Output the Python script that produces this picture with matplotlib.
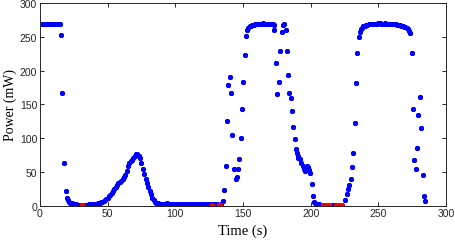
import matplotlib.pyplot as plt

# blue samples: time (s) and power (mW)
time_blue = [
    0, 1, 2, 3, 4, 5, 6, 7, 8, 9, 10, 11, 12, 13, 14, 15, 15.5, 16.5, 17.7, 19, 19.7,
    20.5, 21.5, 22.5, 23.5, 24.5, 25.5, 26.5, 27.5, 28.5, 29.5,
    32, 33, 34, 35, 36, 37, 38, 39, 40, 41, 42, 43, 44, 45, 46, 47, 48, 49,
    50, 51, 52, 53, 54, 55, 56, 57, 58, 59, 60, 61, 62, 63, 64, 65, 66, 67, 68, 69,
    70, 71, 72, 73, 74, 75, 76, 77, 78, 79, 80, 81, 82, 83, 84, 85, 86, 87,
    88, 89, 90, 91, 92, 93, 94, 95, 96, 97, 98, 99, 100, 101, 102, 103, 104, 105,
    106, 107, 108, 109, 110, 111, 112, 113, 114, 115, 116, 117, 118, 119, 120,
    121, 122, 123, 124, 125, 126, 128, 129, 130, 131, 134,
    135.5, 136, 137.5, 138.2, 139.2, 140.4, 141.2, 142, 143.4, 144.9, 145.4,
    146.6, 147.3, 148.3, 149.3, 150.3, 151.3, 152.3, 153.2,
    154, 155, 156, 157, 158, 159, 160, 161, 162, 163, 164, 165, 166, 167, 168,
    169, 170, 171, 172, 173, 173.2, 174.4, 175.4, 176.4, 177.4, 178.6, 179.8,
    180.6, 181.8, 182.3, 183.5, 184.3, 185.5, 186.5, 187.2, 188.5, 189.2,
    190, 190.5, 191, 192, 193, 194, 195, 195.9, 196.5, 197.3, 198, 199, 199.6,
    201.3, 201.6, 202.3, 203, 204, 205, 206, 207, 208,
    213.5, 214.5, 215.5, 216.5, 217.5,
    225.4, 226.7, 227.4, 228.4, 229.6, 230.4, 231.6, 232.5, 233.6, 234.6, 235.8, 236.5,
    237, 238, 239, 240, 241, 242, 243, 244, 245, 246, 247, 248, 249, 250,
    251, 252, 253, 254, 255, 256, 257, 258, 259, 260, 261, 262, 263, 264, 265,
    266, 267, 268, 269, 270, 271, 272, 273, 273.5,
    274.7, 276, 276.6, 277.6, 278.4, 279.4, 280.8, 281.6, 282.8, 283.8, 284.8,
]
power_blue = [
    270, 270, 269.5, 270, 270, 269.5, 270, 270, 269.5, 270, 270, 269.5, 270, 270, 269.5, 270, 253, 167, 63, 22, 11,
    8, 6, 4.5, 3.5, 3, 2.5, 2, 1.5, 1, 1,
    0.8, 1, 1.2, 1.5, 1.8, 2, 2.2, 2.5, 2.8, 3, 3.2, 3.5, 4, 5, 6, 7, 8.5, 10,
    12, 14, 16.5, 19, 22, 25, 28, 30, 33, 35, 37, 39, 42, 46, 52, 59, 64, 66, 68, 71,
    74, 77, 76, 74, 70, 63, 55, 47, 40, 33, 28, 22, 17, 12, 8, 5, 4, 3.5,
    3, 3.2, 3, 2.8, 3.2, 3, 3.3, 3, 2.8, 3, 3.2, 3, 2.8, 3, 3.1, 2.9, 3, 3.2,
    3, 2.8, 3, 3.1, 2.9, 3, 2.8, 3, 2.7, 2.9, 2.8, 2.6, 2.8, 2.7, 2.5,
    2.7, 2.5, 2.6, 2.4, 2.5, 2.3, 2.4, 2.2, 2.4, 2.3, 3,
    6.5, 24, 59, 126, 179, 191, 167, 105, 55, 40, 43,
    54, 69, 100, 143, 184, 224, 252, 261,
    264, 266, 267, 268, 268.5, 269, 269, 269.5, 270, 270, 270, 270.5, 270, 270, 269.5,
    269.5, 269, 269, 269, 268.5, 261, 212, 166, 183, 229, 258, 268,
    270, 260, 230, 193, 167, 159, 141, 116, 99, 84,
    78, 73, 70, 69, 63, 59, 55, 52, 56, 59, 57, 53, 48,
    32, 15, 6, 4, 3, 2.5, 2, 1.5, 1,
    0.3, 0.2, 0.2, 0.3, 0.5,
    8, 17, 25, 31, 40, 57, 78, 123, 182, 227, 250, 258,
    262, 264, 266, 267, 268, 268.5, 269, 269, 269.5, 269.5, 270, 270, 270, 270.5,
    270.5, 270, 270, 270, 270.5, 270, 270, 269.5, 269.5, 269.5, 269, 269, 269, 268.5, 268,
    267.5, 267, 266, 265.5, 265, 263, 262, 259, 256,
    227, 144, 67, 54, 85, 135, 161, 115, 45, 15, 6.5,
]

# red samples (near-zero readings)
time_red = [30.8, 127, 132, 133, 209.5, 210.5, 211.5, 212.5, 213.5,
            218.5, 219.5, 220.5, 221.5, 222.5, 223.5]
power_red = [0.5, 1, 1, 1, 0.5, 0.5, 0.4, 0.4, 0.4,
             0.5, 0.5, 0.6, 0.6, 0.8, 0.8]

x_ticks = [0, 50, 100, 150, 200, 250, 300]
y_ticks = [0, 50, 100, 150, 200, 250, 300]


def main():
    fig, ax = plt.subplots(figsize=(4.56, 2.51), dpi=100)
    fig.subplots_adjust(left=0.0877, right=0.978, bottom=0.1765, top=0.983)

    ax.plot(time_blue, power_blue, linestyle="none", marker=(8, 2, 0),
            markersize=3.6, markeredgewidth=0.9, color="#0000ff")
    ax.plot(time_red, power_red, linestyle="none", marker=(8, 2, 0),
            markersize=3.6, markeredgewidth=0.9, color="#ff0000")

    ax.set_xlim(0, 300)
    ax.set_ylim(0, 300)
    ax.set_xticks(x_ticks)
    ax.set_yticks(y_ticks)
    ax.tick_params(direction="in", top=True, right=True, length=3, width=0.7,
                   labelsize=7.5, colors="#262626", pad=2)
    for lbl in ax.get_xticklabels() + ax.get_yticklabels():
        lbl.set_family("Liberation Sans")
    for s in ax.spines.values():
        s.set_color("#262626")
        s.set_linewidth(0.7)

    ax.set_xlabel("Time (s)", family="Liberation Serif", fontsize=10.5, labelpad=3.5)
    ax.set_ylabel("Power (mW)", family="Liberation Serif", fontsize=10, labelpad=2)

    fig.savefig("out.png", dpi=100)


if __name__ == "__main__":
    main()
